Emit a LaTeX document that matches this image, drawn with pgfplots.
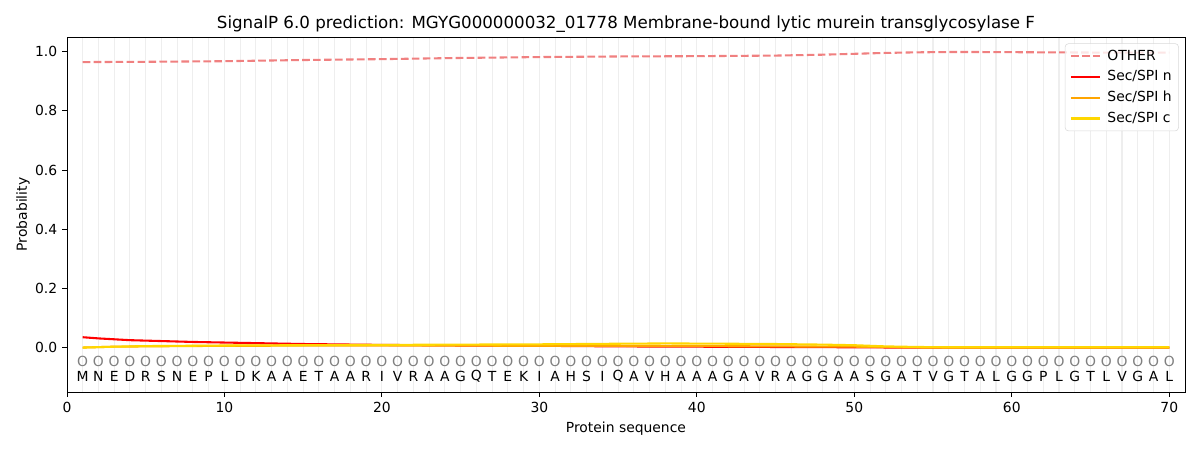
\documentclass[border=0pt]{standalone}
\usepackage{pgfplots}
\pgfplotsset{compat=1.18}
\usepackage{pgfplotstable}
\usepackage{fontspec}
\setmainfont{DejaVu Sans}
\definecolor{othercol}{RGB}{240,128,128}
\definecolor{ncol}{RGB}{255,0,0}
\definecolor{hcol}{RGB}{255,165,0}
\definecolor{ccol}{RGB}{255,215,0}
\definecolor{gridcol}{RGB}{238,238,238}

\pgfplotstableread{
pos seq
1 M
2 N
3 E
4 D
5 R
6 S
7 N
8 E
9 P
10 L
11 D
12 K
13 A
14 A
15 E
16 T
17 A
18 A
19 R
20 I
21 V
22 R
23 A
24 A
25 G
26 Q
27 T
28 E
29 K
30 I
31 A
32 H
33 S
34 I
35 Q
36 A
37 V
38 H
39 A
40 A
41 A
42 G
43 A
44 V
45 R
46 A
47 G
48 G
49 A
50 A
51 S
52 G
53 A
54 T
55 V
56 G
57 T
58 A
59 L
60 G
61 G
62 P
63 L
64 G
65 T
66 L
67 V
68 G
69 A
70 L
}\seqtable

\pgfplotstableread{
x y
1 0.965
5 0.966
10 0.968
15 0.972
20 0.975
25 0.979
30 0.982
35 0.984
40 0.985
45 0.987
48 0.990
50 0.993
52 0.996
54 0.998
56 0.999
58 0.999
62 0.998
66 0.997
70 0.997
}\othertable

\pgfplotstableread{
x y
1 0.035
2 0.031
3 0.028
4 0.025
6 0.022
8 0.019
10 0.017
12 0.015
15 0.012
20 0.009
25 0.007
30 0.006
35 0.004
40 0.003
45 0.002
50 0.001
53 0.000
70 0.000
}\ntable

\pgfplotstableread{
x y
1 0.000
3 0.003
5 0.004
10 0.006
20 0.007
30 0.006
40 0.005
45 0.004
50 0.003
53 0.001
55 0.000
70 0.000
}\htable

\pgfplotstableread{
x y
1 0.000
3 0.003
5 0.005
10 0.007
20 0.009
30 0.011
35 0.013
38 0.014
42 0.013
45 0.012
48 0.010
50 0.008
52 0.004
54 0.002
56 0.001
70 0.001
}\ctable

\begin{document}
\begin{tikzpicture}
\begin{axis}[
  at={(0,0)}, anchor=south west,
  scale only axis,
  width=805pt, height=255.6pt,
  xmin=0, xmax=71,
  ymin=-0.15, ymax=1.05,
  xtick={0,10,...,70},
  ytick={0,0.2,0.4,0.6,0.8,1.0},
  minor xtick={1,...,70},
  xminorgrids=true,
  minor grid style={gridcol, line width=0.8pt},
  minor tick length=0pt,
  tick align=outside,
  major tick length=3.5pt,
  tick style={black, line width=0.6pt},
  xtick pos=bottom, ytick pos=left,
  /pgf/number format/assume math mode=true,
  yticklabel style={/pgf/number format/fixed, /pgf/number format/fixed zerofill, /pgf/number format/precision=1},
  ticklabel style={font=\fontsize{10}{12}\selectfont},
  xlabel={Protein sequence},
  ylabel={Probability},
  label style={font=\fontsize{10}{12}\selectfont},
  xlabel style={yshift=0pt},
  ylabel style={yshift=-3pt},
  title={SignalP 6.0 prediction: MGYG000000032\_01778 Membrane-bound lytic murein transglycosylase F},
  title style={font=\fontsize{12}{14}\selectfont, yshift=-6.5pt},
  axis line style={line width=0.6pt},
  legend style={at={(0.9945,0.982)}, anchor=north east, draw=gray!30, rounded corners=2.5pt,
    fill=white, fill opacity=0.8, text opacity=1, font=\fontsize{10}{12}\selectfont,
    inner xsep=3.5pt, inner ysep=3pt, row sep=3pt,
    nodes={inner sep=1.5pt},
    /tikz/every odd column/.append style={column sep=3pt}},
  legend cell align=left,
  legend image code/.code={\draw[#1] (0pt,0pt) -- (21pt,0pt);},
]
\addplot[othercol, line width=1.5pt, dash pattern=on 5.5pt off 2.4pt] table[x=x,y=y] {\othertable};
\addlegendentry{OTHER}
\addplot[ncol, line width=1.5pt] table[x=x,y=y] {\ntable};
\addlegendentry{Sec/SPI n}
\addplot[hcol, line width=1.5pt] table[x=x,y=y] {\htable};
\addlegendentry{Sec/SPI h}
\addplot[ccol, line width=1.5pt] table[x=x,y=y] {\ctable};
\addlegendentry{Sec/SPI c}
\addplot[forget plot, draw=none, mark=none, nodes near coords={O},
  every node near coord/.append style={anchor=center, text=gray, font=\fontsize{10}{12}\selectfont}]
  table[x=pos, y expr=-0.047] {\seqtable};
\addplot[forget plot, draw=none, mark=none, nodes near coords, point meta=explicit symbolic,
  every node near coord/.append style={anchor=center, text=black, font=\fontsize{10}{12}\selectfont}]
  table[x=pos, y expr=-0.098, meta=seq] {\seqtable};
\end{axis}
\path[use as bounding box] (-48.2pt,-41.8pt) rectangle (815.8pt,282.2pt);
\end{tikzpicture}
\end{document}
